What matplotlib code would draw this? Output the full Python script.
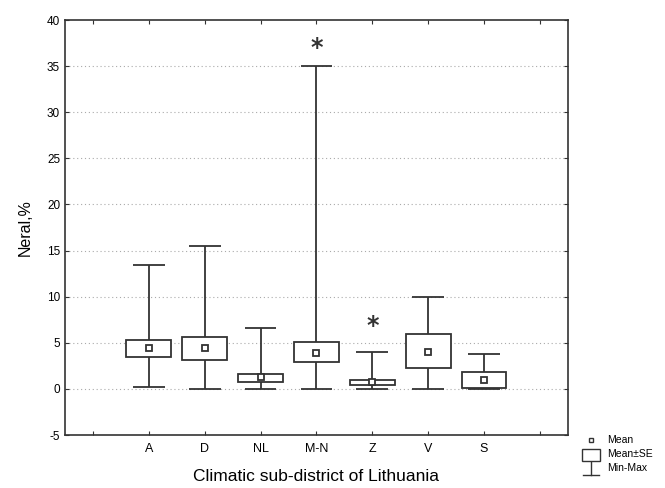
import matplotlib.pyplot as plt
from matplotlib.patches import Rectangle
from matplotlib.lines import Line2D

plt.rcParams['font.family'] = ['Liberation Sans', 'DejaVu Sans']

categories = ['A', 'D', 'NL', 'M-N', 'Z', 'V', 'S']
mean = [4.45, 4.45, 1.25, 3.9, 0.75, 4.05, 0.95]
se_low = [3.45, 3.1, 0.8, 2.95, 0.45, 2.25, 0.05]
se_high = [5.3, 5.6, 1.6, 5.05, 1.0, 5.9, 1.85]
vmin = [0.2, 0.0, 0.0, 0.0, 0.0, 0.0, 0.0]
vmax = [13.4, 15.5, 6.6, 35.0, 3.95, 10.0, 3.8]
# outliers (category, value)
out_cat = ['M-N', 'Z']
out_val = [37.0, 6.8]

col = '#333333'
fig = plt.figure(figsize=(6.65, 4.88), dpi=100)
ax = fig.add_axes([0.0977, 0.1086, 0.7563, 0.8504])

pos = list(range(1, len(categories) + 1))
bw = 0.8
cw = 0.57
for x, m, lo, hi, mn, mx in zip(pos, mean, se_low, se_high, vmin, vmax):
    ax.vlines(x, mn, lo, color=col, lw=1.3, zorder=3)
    ax.vlines(x, hi, mx, color=col, lw=1.3, zorder=3)
    ax.hlines([mn, mx], x - cw / 2, x + cw / 2, color=col, lw=1.3, zorder=3)
    ax.add_patch(Rectangle((x - bw / 2, lo), bw, hi - lo, facecolor='white',
                           edgecolor=col, lw=1.3, zorder=4))
    ax.plot(x, m, marker='s', ms=4.5, mfc='white', mec=col, mew=1.3, zorder=5)

for c, v in zip(out_cat, out_val):
    ax.text(categories.index(c) + 1, v, '*', ha='center', va='center',
            fontsize=17, fontweight='bold', color=col, family='DejaVu Sans')

ax.set_xlim(-0.5, 8.5)
ax.set_ylim(-5, 40)
ax.set_xticks(range(0, 9))
ax.set_xticklabels([''] + categories + [''], fontsize=9)
ax.set_yticks(range(-5, 41, 5))
ax.set_yticklabels([str(v) for v in range(-5, 41, 5)], fontsize=8.5)
ax.tick_params(direction='in', top=True, right=True, length=3, width=0.8, colors=col, labelcolor='black')
ax.tick_params(axis='x', pad=6)
for y in range(0, 36, 5):
    ax.axhline(y, color='#aaaaaa', lw=0.8, ls=(0, (1, 2.5)), zorder=1)
for s in ax.spines.values():
    s.set_linewidth(1.2)
    s.set_color(col)

ax.set_ylabel('Neral,%', fontsize=11.5, labelpad=10)
ax.set_xlabel('Climatic sub-district of Lithuania', fontsize=12.5, labelpad=10)

# legend drawn by hand in pixel coords of the figure
W, H = 665.0, 488.0
def fx(px): return px / W
def fy(py): return 1 - py / H
fig.add_artist(Line2D([fx(591)], [fy(440)], marker='s', ms=3.5, mfc='white', mec=col, mew=1.0,
                      transform=fig.transFigure))
fig.add_artist(Rectangle((fx(582), fy(461)), fx(600) - fx(582), fy(449) - fy(461), facecolor='white',
                         edgecolor=col, lw=1.0, transform=fig.transFigure))
fig.add_artist(Line2D([fx(591), fx(591)], [fy(462), fy(475)], color=col, lw=1.0, transform=fig.transFigure))
fig.add_artist(Line2D([fx(583), fx(599)], [fy(475), fy(475)], color=col, lw=1.0, transform=fig.transFigure))
for py, t in zip([440, 454, 468], ['Mean', 'Mean±SE', 'Min-Max']):
    fig.text(fx(607), fy(py), t, fontsize=7.5, va='center', ha='left')

fig.savefig('out.png', dpi=100)
